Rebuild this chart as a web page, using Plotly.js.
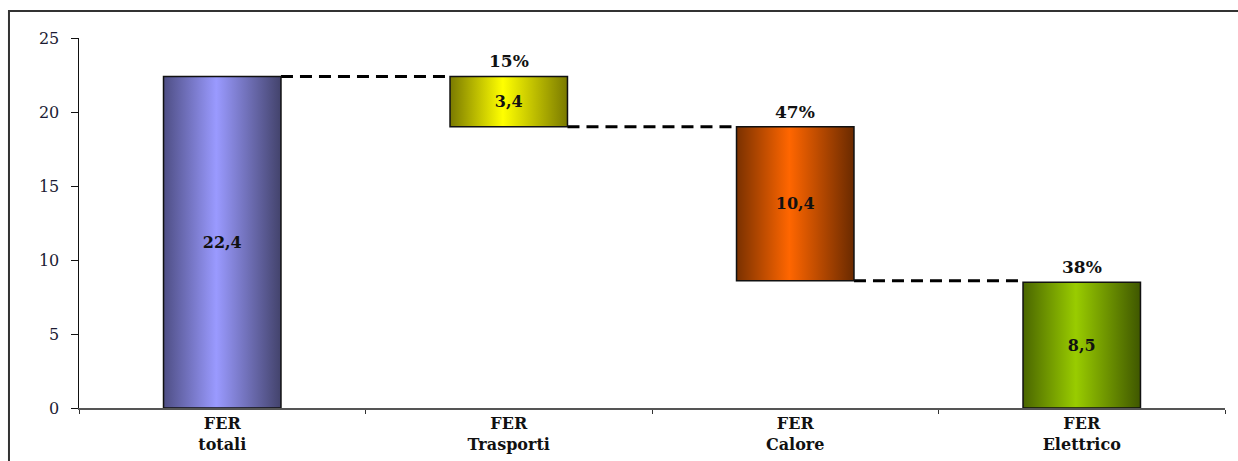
<!DOCTYPE html>
<html>
<head>
<meta charset="utf-8">
<script src="https://cdn.plot.ly/plotly-3.0.1.min.js"></script>
<style>
  html, body { margin: 0; padding: 0; background: #fff; }
  #chart { width: 1238px; height: 461px; }
</style>
</head>
<body>
<div id="chart"></div>
<script>
// Renewable energy breakdown (Mtep): total, then its three components
const categories = ['FER<br>totali', 'FER<br>Trasporti', 'FER<br>Calore', 'FER<br>Elettrico'];
const values = [22.4, 3.4, 10.4, 8.5];
const shares = ['', '15%', '47%', '38%'];
// gradient colours per bar: [edge left, centre, edge right]
const barShades = [
  ['#4e4e84', '#9a9aff', '#43436c'],
  ['#7a7a00', '#ffff00', '#7a7a00'],
  ['#7a3100', '#ff6600', '#6a2a00'],
  ['#4a6600', '#99cc00', '#3f5700']
];

// Waterfall bases: the total stands on zero, each component hangs from the
// bottom of the previous one, and the last one sits on the axis again.
const bases = [];
let level = 0;
values.forEach((v, i) => {
  if (i === 0) { bases.push(0); level = v; }
  else if (i === values.length - 1) { bases.push(0); }
  else { level -= v; bases.push(level); }
});
const tops = values.map((v, i) => bases[i] + v);

const barWidth = 0.41;
const serif = 'DejaVu Serif, Liberation Serif, serif';

const bars = {
  type: 'bar',
  x: categories,
  y: values,
  base: bases,
  width: barWidth,
  marker: {
    color: barShades.map(s => s[1]),
    line: { color: '#111', width: 1.5 }
  },
  text: values.map(v => v.toFixed(1).replace('.', ',')),
  textposition: 'inside',
  insidetextanchor: 'middle',
  textangle: 0,
  constraintext: 'none',
  insidetextfont: { family: serif, size: 16, color: '#111', weight: 'bold' },
  hoverinfo: 'skip',
  showlegend: false
};

// dashed connectors: from the right edge of a bar to the left edge of the next
const connectorLevels = [tops[0], bases[1], bases[2]];
const shapes = connectorLevels.map((lv, i) => ({
  type: 'line', xref: 'x', yref: 'y',
  x0: i + barWidth / 2, x1: i + 1 - barWidth / 2,
  y0: lv, y1: lv,
  line: { color: '#000', width: 3, dash: '12px,7px' },
  layer: 'below'
}));
// frame around the whole figure
shapes.push({
  type: 'rect', xref: 'paper', yref: 'paper',
  x0: -0.0611, x1: 1.1, y0: -0.3, y1: 1.073,
  line: { color: '#333', width: 2 }, fillcolor: 'rgba(0,0,0,0)'
});

const annotations = shares.map((s, i) => ({
  x: categories[i], y: tops[i], xref: 'x', yref: 'y',
  text: s, showarrow: false, yanchor: 'bottom', yshift: 3,
  font: { family: serif, size: 17, color: '#111', weight: 'bold' }
})).filter(a => a.text);

const layout = {
  width: 1238, height: 461,
  margin: { l: 79, r: 13, t: 38, b: 53 },
  paper_bgcolor: '#fff', plot_bgcolor: '#fff',
  bargap: 0.59,
  xaxis: {
    type: 'category',
    showgrid: false, zeroline: false,
    showline: true, linecolor: '#555', linewidth: 2,
    ticks: 'outside', tickson: 'boundaries', ticklen: 4, tickcolor: '#333',
    tickfont: { family: serif, size: 16, color: '#111', weight: 'bold' }
  },
  yaxis: {
    range: [0, 25], dtick: 5,
    showgrid: false, zeroline: false,
    showline: true, linecolor: '#111', linewidth: 1.5,
    ticks: 'outside', ticklen: 7, tickcolor: '#111',
    ticklabelstandoff: 8,
    tickfont: { family: serif, size: 16, color: '#1b1b33' }
  },
  shapes: shapes,
  annotations: annotations
};

Plotly.newPlot('chart', [bars], layout, { staticPlot: true }).then(gd => {
  // shade each bar with a horizontal cylinder-like gradient
  const svgNS = 'http://www.w3.org/2000/svg';
  const defs = gd.querySelector('svg.main-svg defs');
  barShades.forEach((s, i) => {
    const g = document.createElementNS(svgNS, 'linearGradient');
    g.setAttribute('id', 'barShade' + i);
    g.setAttribute('x1', '0'); g.setAttribute('x2', '1');
    g.setAttribute('y1', '0'); g.setAttribute('y2', '0');
    [[0, s[0]], [0.45, s[1]], [1, s[2]]].forEach(([o, c]) => {
      const st = document.createElementNS(svgNS, 'stop');
      st.setAttribute('offset', o);
      st.setAttribute('stop-color', c);
      g.appendChild(st);
    });
    defs.appendChild(g);
  });
  gd.querySelectorAll('.barlayer .trace.bars .point path').forEach((p, i) => {
    p.style.fill = 'url(#barShade' + i + ')';
  });
});
</script>
</body>
</html>
